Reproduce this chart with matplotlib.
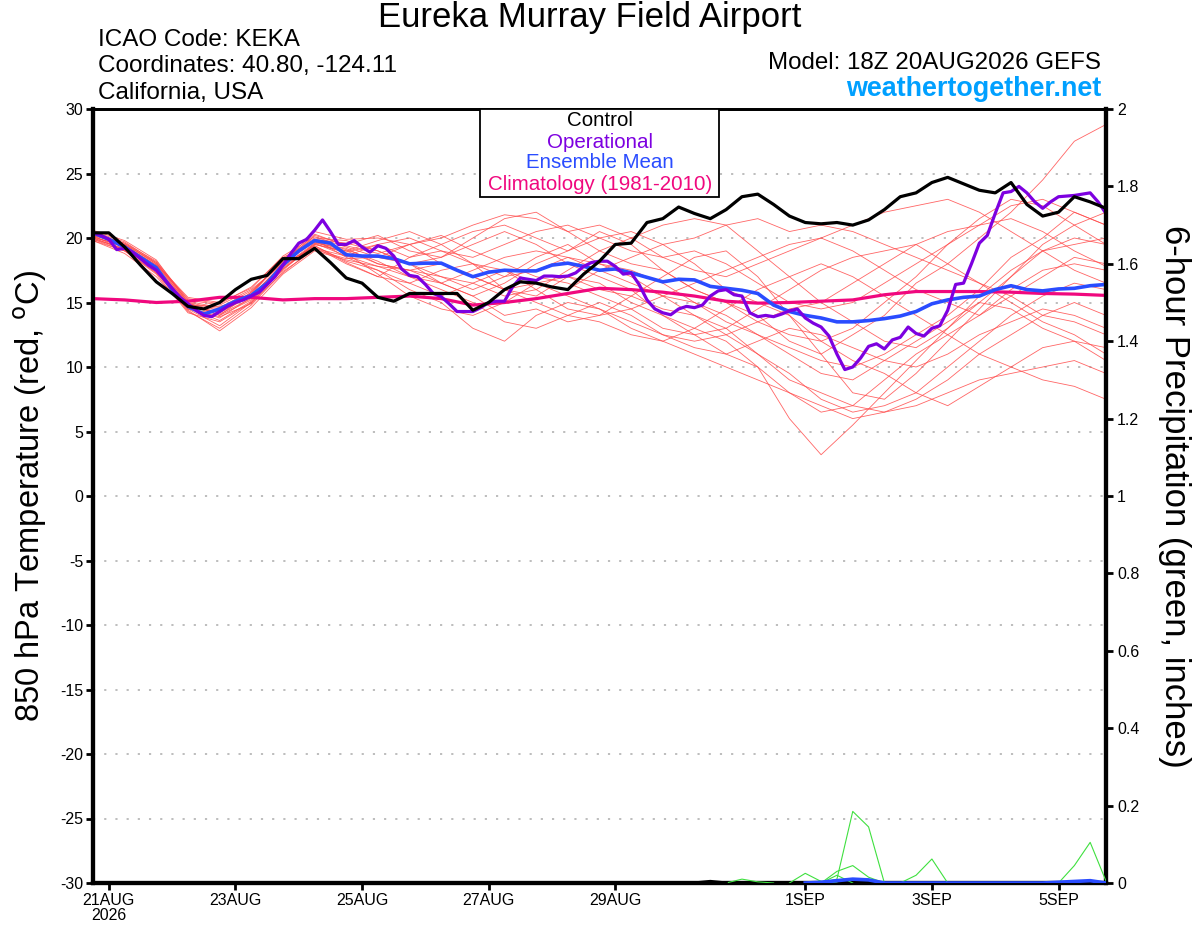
import matplotlib
matplotlib.use("Agg")
import matplotlib.pyplot as plt
import numpy as np
from matplotlib.patches import Rectangle

plt.rcParams['font.family'] = ['Liberation Sans', 'DejaVu Sans']
plt.rcParams['axes.unicode_minus'] = False

# forecast hours from 18Z 20AUG2026
hours6 = np.arange(0, 385, 6)
hours3 = np.arange(0, 385, 3)
hours12 = np.arange(0, 385, 12)

control = [20.4, 20.4, 19.3, 17.9, 16.6, 15.7, 14.7, 14.5, 15.0, 16.0, 16.8, 17.1, 18.4, 18.4, 19.2, 18.1, 16.9,
           16.5, 15.4, 15.1, 15.7, 15.7, 15.7, 15.7, 14.4, 15.0, 16.0, 16.6, 16.5, 16.2, 16.0, 17.2, 18.2,
           19.5, 19.6, 21.2, 21.5, 22.4, 21.9, 21.5, 22.2, 23.2, 23.4, 22.6, 21.7, 21.2, 21.1, 21.2, 21.0,
           21.4, 22.2, 23.2, 23.5, 24.3, 24.7, 24.2, 23.7, 23.5, 24.3, 22.6, 21.7, 22.0, 23.2, 22.8, 22.3]

operational = [20.4, 20.2, 19.9, 19.1, 19.2, 18.9, 18.4, 17.9, 17.5, 16.8, 16.1,
               15.4, 14.9, 14.4, 14.0, 13.9, 14.3, 14.7, 15.0, 15.2, 15.5,
               15.8, 16.4, 17.0, 17.9, 18.8, 19.6, 19.9, 20.6, 21.4, 20.5,
               19.5, 19.5, 19.8, 19.3, 18.9, 19.4, 19.2, 18.6, 17.6, 17.1,
               17.0, 16.4, 15.7, 15.45, 14.9, 14.3, 14.3, 14.3, 14.6, 15.0,
               15.1, 15.1, 16.2, 16.9, 16.8, 16.7, 17.05, 17.05, 17.0, 17.05,
               17.3, 17.8, 18.1, 18.2, 18.2, 17.8, 17.2, 17.3, 16.4, 15.2,
               14.5, 14.2, 14.05, 14.5, 14.7, 14.6, 14.8, 15.5, 15.9, 16.0,
               15.6, 15.5, 14.2, 13.9, 14.0, 13.9, 14.1, 14.35, 14.5, 13.8,
               13.4, 13.1, 12.4, 11.0, 9.8, 10.0, 10.7, 11.6, 11.8, 11.4,
               12.1, 12.3, 13.1, 12.6, 12.4, 13.0, 13.2, 14.4, 16.4, 16.5,
               18.0, 19.6, 20.2, 21.9, 23.5, 23.6, 24.0, 23.5, 22.8, 22.3,
               22.8, 23.2, 23.25, 23.3, 23.4, 23.5, 22.8, 21.9]

ens_mean = [20.4, 19.9, 19.3, 18.5, 17.7, 16.0, 14.7, 14.1, 14.5, 15.1, 15.55, 16.5, 17.9, 19.0, 19.8, 19.6, 18.7,
            18.6, 18.6, 18.4, 18.0, 18.05, 18.05, 17.5, 17.0, 17.35, 17.5, 17.45, 17.45, 17.9, 18.05, 17.8, 17.5,
            17.6, 17.3, 16.95, 16.6, 16.8, 16.75, 16.25, 16.1, 15.95, 15.7, 14.8, 14.3, 14.0, 13.8, 13.5, 13.5,
            13.6, 13.75, 13.95, 14.3, 14.9, 15.2, 15.4, 15.5, 16.0, 16.3, 16.0, 15.9, 16.05, 16.1, 16.3, 16.4]

climatology = [15.3, 15.2, 15.0, 15.1, 15.4, 15.4, 15.2, 15.3, 15.3, 15.4, 15.5, 15.3, 14.8, 15.0, 15.3, 15.7,
               16.1, 16.0, 15.8, 15.5, 15.1, 14.95, 15.0, 15.1, 15.2, 15.6, 15.85, 15.85, 15.85, 15.8, 15.7,
               15.65, 15.55]

# 20 GEFS members, 12-hourly
members = [
    [20.2, 19.5, 18.0, 14.9, 14.0, 15.2, 17.6, 19.5, 19.0, 19.8, 20.5, 19.5, 18.0, 16.0, 15.5, 17.0, 16.5,
     15.0, 14.0, 13.0, 12.0, 10.0, 8.0, 6.5, 7.0, 9.0, 11.0, 12.5, 14.0, 16.0, 17.5, 18.0, 17.5],
    [20.5, 19.2, 17.5, 14.5, 13.2, 15.0, 17.8, 20.2, 19.5, 20.2, 19.0, 18.5, 20.0, 21.5, 22.0, 20.5, 19.0,
     18.0, 17.5, 16.0, 15.0, 14.0, 12.0, 11.0, 12.5, 14.0, 16.5, 18.0, 20.0, 22.0, 24.5, 27.5, 28.8],
    [19.9, 19.0, 17.8, 14.8, 14.2, 15.8, 18.2, 19.9, 18.5, 17.5, 16.0, 15.0, 13.0, 12.0, 14.0, 15.0, 14.5,
     13.5, 12.5, 12.0, 12.5, 13.5, 14.5, 15.0, 16.5, 18.0, 19.5, 20.5, 21.0, 21.5, 20.5, 19.0, 17.8],
    [20.3, 19.6, 18.2, 15.2, 14.8, 16.0, 18.0, 19.3, 18.0, 17.0, 18.5, 19.5, 20.5, 21.0, 20.0, 19.0, 20.0,
     20.5, 19.5, 18.0, 16.0, 15.0, 14.0, 12.0, 10.5, 9.5, 8.0, 7.0, 8.5, 10.0, 11.5, 12.0, 10.5],
    [20.0, 19.1, 17.3, 14.6, 13.8, 15.4, 17.5, 19.6, 19.2, 18.0, 17.5, 17.0, 16.0, 17.0, 18.5, 19.5, 18.0,
     17.0, 15.5, 14.0, 12.5, 11.0, 9.0, 8.0, 7.0, 6.5, 7.5, 9.0, 11.0, 12.5, 14.0, 15.0, 14.0],
    [20.6, 19.8, 18.3, 15.0, 14.5, 15.6, 18.4, 20.0, 19.8, 19.0, 18.0, 17.0, 16.5, 15.5, 16.0, 17.5, 19.0,
     20.0, 21.0, 21.5, 21.0, 19.0, 17.0, 15.0, 13.5, 12.0, 11.5, 13.0, 15.0, 17.0, 19.0, 20.0, 19.5],
    [19.8, 18.8, 17.0, 14.4, 12.8, 14.6, 17.2, 19.0, 18.3, 17.8, 17.0, 16.5, 15.5, 14.0, 14.5, 13.5, 14.0,
     15.5, 17.0, 18.5, 19.0, 17.0, 14.0, 11.0, 8.0, 7.5, 9.5, 12.0, 14.5, 17.0, 19.5, 21.0, 22.0],
    [20.1, 19.3, 17.6, 14.7, 14.3, 15.5, 18.0, 20.3, 19.4, 18.8, 19.5, 20.2, 19.0, 18.0, 17.0, 16.5, 15.5,
     14.5, 13.0, 12.5, 13.0, 14.5, 16.0, 17.5, 18.5, 19.0, 19.5, 18.0, 16.5, 15.0, 13.5, 12.5, 11.0],
    [20.4, 19.4, 17.9, 15.3, 14.9, 16.2, 18.5, 19.7, 18.8, 17.2, 15.5, 14.5, 14.0, 15.0, 16.5, 17.0, 16.0,
     15.5, 14.5, 14.0, 13.0, 11.0, 9.5, 7.5, 6.5, 7.0, 8.0, 10.0, 12.0, 14.0, 15.5, 16.5, 16.0],
    [20.2, 19.0, 17.2, 14.2, 13.5, 15.0, 17.3, 19.2, 18.6, 19.5, 20.0, 19.0, 18.5, 19.5, 20.5, 21.0, 20.0,
     19.0, 18.5, 19.0, 18.0, 16.5, 15.0, 14.5, 15.0, 16.5, 18.0, 19.5, 21.0, 22.5, 23.0, 22.0, 21.0],
    [20.0, 19.5, 17.7, 14.5, 14.1, 15.3, 17.9, 19.4, 18.2, 17.5, 16.5, 17.5, 18.0, 17.5, 16.0, 14.5, 14.0,
     14.5, 15.5, 15.0, 13.5, 12.5, 11.0, 9.5, 9.0, 10.5, 12.0, 13.5, 15.0, 14.5, 13.0, 12.0, 11.5],
    [20.5, 19.7, 18.1, 15.1, 14.6, 15.9, 18.1, 20.5, 19.9, 20.0, 19.5, 18.0, 17.0, 16.0, 15.0, 14.0, 13.5,
     12.5, 12.0, 11.0, 10.0, 9.0, 8.0, 7.0, 6.0, 6.5, 7.0, 8.0, 9.0, 9.5, 10.0, 10.5, 9.5],
    [19.9, 19.2, 17.4, 14.3, 13.0, 14.8, 17.4, 19.1, 18.4, 18.5, 19.5, 20.0, 21.0, 21.8, 21.5, 20.5, 21.0,
     20.0, 18.5, 17.5, 17.0, 18.0, 19.0, 20.0, 21.0, 22.0, 22.5, 23.0, 22.0, 20.5, 19.0, 17.5, 16.5],
    [20.3, 19.4, 17.9, 14.9, 14.4, 15.7, 18.3, 19.8, 19.1, 18.2, 17.0, 16.0, 15.0, 13.5, 13.0, 14.0, 15.0,
     14.0, 12.5, 11.5, 11.0, 12.0, 13.0, 12.5, 11.5, 10.5, 10.0, 11.0, 12.5, 13.5, 14.5, 14.0, 13.0],
    [20.1, 19.3, 17.5, 14.6, 13.6, 15.1, 17.7, 19.5, 18.9, 19.5, 18.5, 19.0, 18.0, 17.0, 17.5, 18.5, 17.5,
     16.5, 15.5, 16.5, 17.5, 18.5, 19.5, 20.0, 19.0, 17.5, 16.0, 15.0, 14.0, 15.5, 17.0, 18.5, 18.0],
    [20.4, 19.6, 18.0, 15.4, 15.0, 16.1, 18.6, 20.1, 19.3, 18.5, 18.0, 18.5, 19.5, 20.5, 19.5, 18.0, 17.0,
     16.0, 14.0, 12.5, 11.0, 10.0, 6.0, 3.2, 5.5, 8.0, 10.5, 13.0, 15.5, 17.5, 19.0, 19.5, 20.0],
    [20.0, 19.1, 17.6, 14.8, 14.7, 15.4, 17.8, 19.6, 18.6, 17.8, 17.5, 18.0, 17.0, 16.0, 16.5, 16.0, 17.5,
     18.5, 19.5, 20.0, 21.0, 21.5, 20.5, 21.0, 20.5, 19.5, 18.5, 17.5, 16.5, 15.5, 14.0, 13.5, 12.5],
    [20.2, 19.5, 18.1, 15.0, 14.0, 15.8, 18.2, 19.9, 19.6, 19.0, 18.0, 16.5, 15.5, 16.5, 18.0, 19.0, 20.5,
     19.5, 17.5, 16.0, 15.0, 13.5, 12.5, 12.0, 13.0, 15.0, 17.0, 19.5, 21.5, 23.0, 22.5, 21.0, 19.5],
    [19.8, 19.0, 17.3, 14.5, 13.9, 14.9, 17.6, 19.4, 18.1, 17.0, 16.5, 15.5, 16.5, 17.5, 16.5, 15.5, 14.5,
     13.0, 12.0, 13.0, 14.5, 16.0, 17.0, 18.0, 17.0, 15.5, 14.0, 12.5, 11.0, 10.0, 9.0, 8.5, 7.5],
    [20.3, 19.3, 17.8, 14.7, 14.2, 15.5, 18.0, 19.7, 19.0, 18.0, 17.5, 16.5, 17.5, 18.5, 19.0, 18.5, 18.0,
     17.5, 16.5, 15.0, 14.0, 12.5, 11.5, 10.5, 10.0, 11.0, 12.5, 14.0, 16.0, 18.5, 20.0, 22.0, 21.0],
]

# 6-hour precipitation (inches), only the non-zero stretches of each member
precip_members = [
    ([240, 246, 252, 258], [0.0, 0.01, 0.003, 0.0]),
    ([264, 270, 276, 282], [0.0, 0.025, 0.004, 0.0]),
    ([276, 282, 288, 294, 300], [0.0, 0.01, 0.185, 0.145, 0.0]),
    ([276, 282, 288, 294, 300], [0.0, 0.03, 0.045, 0.015, 0.0]),
    ([276, 282, 288], [0.0, 0.02, 0.0]),
    ([306, 312, 318, 324], [0.0, 0.02, 0.062, 0.0]),
    ([360, 366, 372, 378, 384], [0.0, 0.0, 0.045, 0.105, 0.005]),
]
precip_mean_hours = [270, 276, 282, 288, 294, 300, 360, 366, 372, 378, 384]
precip_mean = [0.0, 0.002, 0.006, 0.010, 0.008, 0.0, 0.0, 0.002, 0.004, 0.006, 0.0]
precip_ctrl_hours = [228, 234, 240]
precip_ctrl = [0.0, 0.004, 0.0]

tick_hours = [6, 54, 102, 150, 198, 270, 318, 366]
tick_labels = ['21AUG\n2026', '23AUG', '25AUG', '27AUG', '29AUG', '1SEP', '3SEP', '5SEP']

red = '#ff4a4a'
purple = '#7d00e0'
blue = '#2a4cff'
magenta = '#f0087e'
green = '#3fe03f'

W, H = 1200, 927
fig = plt.figure(figsize=(W / 100, H / 100), dpi=100)
ax = fig.add_axes([93 / W, 1 - 883 / H, 1013 / W, 774 / H])

for m in members:
    ax.plot(hours12, m, color=red, lw=0.6, alpha=0.85, zorder=2)
ax.plot(hours12, climatology, color=magenta, lw=2.3, zorder=4)
ax.plot(hours6, ens_mean, color=blue, lw=2.6, zorder=5)
ax.plot(hours3, operational, color=purple, lw=2.3, zorder=6)
ax.plot(hours6, control, color='black', lw=2.3, zorder=7)

ax.set_xlim(0, 384)
ax.set_ylim(-30, 30)
ax.set_yticks(np.arange(-30, 31, 5))
ax.set_yticklabels([str(v) for v in range(-30, 31, 5)])
ax.set_xticks(tick_hours)
ax.set_xticklabels(tick_labels)
ax.grid(axis='y', color='#b8b8b8', linestyle=(0, (1.2, 5)), lw=1.3)
ax.tick_params(axis='both', direction='out', length=5, width=2, labelsize=11.5, pad=2)
for lab in ax.get_xticklabels():
    lab.set_linespacing(1.0)

for side in ['left', 'bottom', 'right']:
    ax.spines[side].set_linewidth(3)
ax.spines['top'].set_linewidth(2)

ax2 = ax.twinx()
for hrs, vals in precip_members:
    ax2.plot(hrs, vals, color=green, lw=0.8, zorder=3)
ax2.plot(precip_mean_hours, precip_mean, color=blue, lw=2.6, zorder=4)
ax2.plot(precip_ctrl_hours, precip_ctrl, color='black', lw=2.3, zorder=4)
ax2.set_ylim(0, 2)
ax2.set_yticks(np.arange(0, 2.01, 0.2))
ax2.set_yticklabels(['0', '0.2', '0.4', '0.6', '0.8', '1', '1.2', '1.4', '1.6', '1.8', '2'])
ax2.tick_params(axis='y', direction='out', length=5, width=2, labelsize=11.5, pad=3)
for side in ['left', 'bottom', 'right']:
    ax2.spines[side].set_linewidth(3)
ax2.spines['top'].set_linewidth(2)

# axis titles
fig.text(30 / W, 1 - 496 / H, r'850 hPa Temperature (red, $^\mathrm{o}$C)', fontsize=23.5,
         rotation=90, ha='center', va='center')
fig.text(1175 / W, 1 - 496 / H, '6-hour Precipitation (green, inches)', fontsize=25,
         rotation=-90, ha='center', va='center')

# header texts
fig.text(590 / W, 1 - 18 / H, 'Eureka Murray Field Airport', fontsize=25, ha='center', va='center')
fig.text(98 / W, 1 - 40 / H, 'ICAO Code: KEKA', fontsize=17.5, ha='left', va='center')
fig.text(98 / W, 1 - 66 / H, 'Coordinates: 40.80, -124.11', fontsize=17.5, ha='left', va='center')
fig.text(98 / W, 1 - 93 / H, 'California, USA', fontsize=17.5, ha='left', va='center')
fig.text(1101 / W, 1 - 63 / H, 'Model: 18Z 20AUG2026 GEFS', fontsize=17.4, ha='right', va='center')
fig.text(1101 / W, 1 - 89 / H, 'weathertogether.net', fontsize=19.4, fontweight='bold',
         color='#00a0ff', ha='right', va='center')

# legend box
fig.patches.append(Rectangle((480 / W, 1 - 197 / H), 239 / W, 88 / H, transform=fig.transFigure,
                             facecolor='white', edgecolor='black', lw=1.3, zorder=10))
legend_items = [('Control', 'black', 121), ('Operational', purple, 142),
                ('Ensemble Mean', blue, 163), ('Climatology (1981-2010)', magenta, 185)]
for txt, col, yy in legend_items:
    fig.text(600 / W, 1 - yy / H, txt, color=col, fontsize=14.8, ha='center', va='center', zorder=11)

fig.savefig('out.png', dpi=100)
